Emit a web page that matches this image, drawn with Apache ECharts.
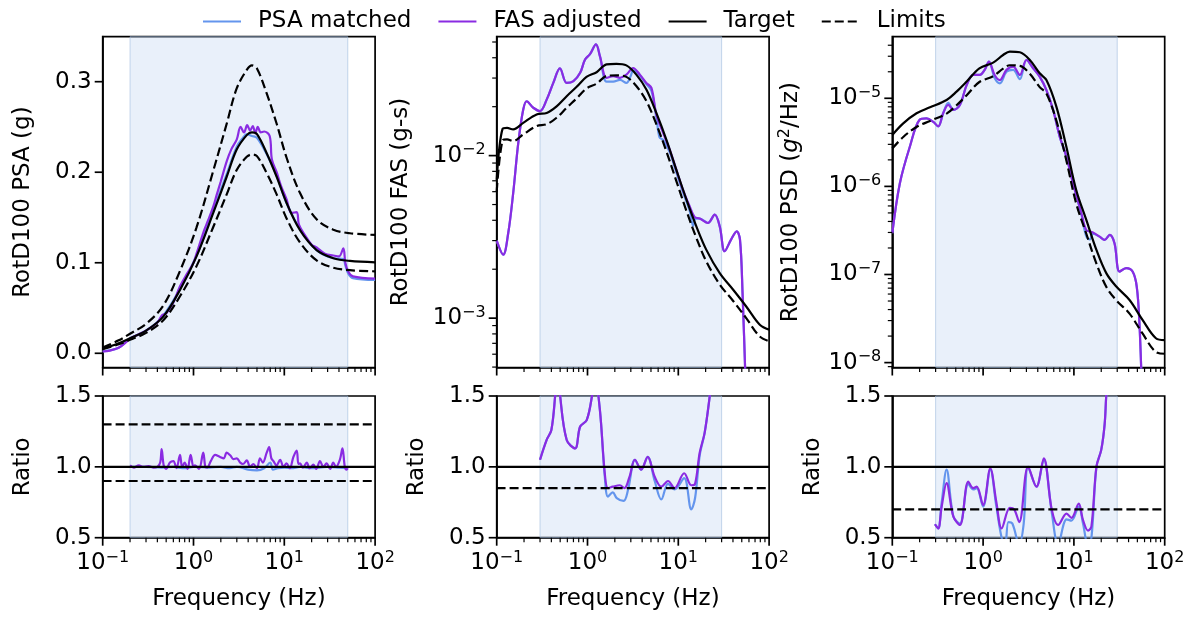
<!DOCTYPE html>
<html>
<head>
<meta charset="utf-8">
<script src="https://cdn.jsdelivr.net/npm/echarts@6/dist/echarts.min.js"></script>
<style>
  html, body { margin: 0; padding: 0; background: #fff; }
  #chart { width: 1193px; height: 618px; }
</style>
</head>
<body>
<div id="chart"></div>
<script>
// ---- data: [frequency (Hz), value] ----
// left column: PSA (g)
const psaTarget = [[0.1, 0.005], [0.15, 0.011], [0.2, 0.0166], [0.3, 0.025], [0.465, 0.0405], [0.71, 0.07], [1.08, 0.107], [1.65, 0.155], [2.32, 0.195], [2.99, 0.225], [3.86, 0.241], [4.4, 0.244], [5.0, 0.242], [6.4, 0.221], [8.24, 0.195], [10.6, 0.166], [14.9, 0.136], [22.7, 0.114], [34.7, 0.105], [52.8, 0.102], [100, 0.1005]];
const psaUpper = [[0.1, 0.0065], [0.15, 0.0143], [0.2, 0.0216], [0.3, 0.0325], [0.465, 0.0527], [0.71, 0.091], [1.08, 0.139], [1.65, 0.2015], [2.32, 0.2535], [2.99, 0.2925], [3.86, 0.313], [4.4, 0.318], [5.0, 0.3146], [6.4, 0.287], [8.24, 0.2535], [10.6, 0.216], [14.9, 0.177], [22.7, 0.148], [34.7, 0.1365], [52.8, 0.1326], [100, 0.1307]];
const psaLower = [[0.1, 0.0045], [0.15, 0.0099], [0.2, 0.0149], [0.3, 0.0225], [0.465, 0.0365], [0.71, 0.063], [1.08, 0.0963], [1.65, 0.1395], [2.32, 0.1755], [2.99, 0.2025], [3.86, 0.217], [4.4, 0.2196], [5.0, 0.2178], [6.4, 0.199], [8.24, 0.1755], [10.6, 0.149], [14.9, 0.1224], [22.7, 0.1026], [34.7, 0.0945], [52.8, 0.0918], [100, 0.0905]];
const psaMatched = [[0.1, 0.002], [0.15, 0.006], [0.2, 0.0165], [0.3, 0.025], [0.45, 0.04], [0.71, 0.071], [1.08, 0.108], [1.65, 0.158], [2.32, 0.198], [2.99, 0.228], [3.5, 0.238], [3.86, 0.242], [4.4, 0.24], [5.0, 0.238], [6.4, 0.22], [8.24, 0.196], [10.6, 0.166], [14.9, 0.137], [22.7, 0.114], [34.7, 0.105], [44.7, 0.104], [47, 0.097], [50.7, 0.088], [57, 0.083], [100, 0.081]];
const psaFasAdj = [[0.1, 0.002], [0.12, 0.003], [0.15, 0.006], [0.18, 0.012], [0.2, 0.0165], [0.25, 0.021], [0.3, 0.025], [0.4, 0.034], [0.45, 0.042], [0.5, 0.044], [0.6, 0.056], [0.71, 0.074], [0.85, 0.088], [1.0, 0.1], [1.08, 0.11], [1.3, 0.135], [1.45, 0.147], [1.65, 0.162], [1.8, 0.175], [2.0, 0.19], [2.32, 0.212], [2.6, 0.225], [2.99, 0.236], [3.3, 0.25], [3.6, 0.244], [3.9, 0.252], [4.2, 0.246], [4.5, 0.251], [4.8, 0.243], [5.1, 0.25], [5.5, 0.244], [6.0, 0.245], [6.9, 0.24], [7.3, 0.214], [8.24, 0.2], [9.2, 0.185], [10.6, 0.17], [12, 0.155], [13.7, 0.156], [14.5, 0.142], [17, 0.13], [20, 0.12], [22.7, 0.117], [28, 0.11], [34.7, 0.108], [40, 0.107], [44.7, 0.116], [47, 0.1], [50.7, 0.09], [57, 0.085], [100, 0.0825]];
const psaRatioMatched = [[0.2, 1.0], [0.3, 1.0], [0.45, 0.995], [0.6, 1.0], [0.8, 0.99], [1.0, 1.0], [1.5, 0.995], [2.0, 1.0], [2.5, 0.99], [3.0, 1.0], [4.0, 0.98], [5.0, 0.975], [6.0, 0.99], [7.0, 1.03], [7.5, 0.98], [8.5, 0.99], [10, 0.995], [12, 0.99], [15, 1.0], [20, 0.99], [30, 1.0], [40, 0.995], [50, 0.99]];
const psaRatioAdj = [[0.2, 1.01], [0.22, 0.995], [0.25, 1.01], [0.28, 1.0], [0.32, 1.005], [0.36, 0.995], [0.4, 1.0], [0.43, 1.03], [0.446, 1.125], [0.47, 1.01], [0.5, 0.985], [0.55, 1.03], [0.6, 1.04], [0.65, 0.99], [0.71, 1.085], [0.75, 1.0], [0.8, 1.03], [0.86, 0.985], [0.93, 1.085], [1.0, 1.0], [1.04, 1.01], [1.15, 0.985], [1.28, 1.1], [1.35, 1.0], [1.41, 0.995], [1.55, 1.04], [1.73, 1.085], [1.96, 1.07], [2.15, 1.06], [2.32, 1.1], [2.55, 1.08], [2.75, 1.055], [3.0, 1.06], [3.27, 1.03], [3.5, 1.02], [3.86, 1.045], [4.2, 1.0], [4.56, 1.02], [5.0, 0.99], [5.4, 1.06], [5.8, 1.03], [6.4, 1.1], [6.8, 1.14], [7.2, 1.06], [7.6, 1.04], [8.2, 1.01], [9.0, 1.05], [9.8, 1.0], [10.6, 1.025], [11.5, 0.99], [12.6, 1.07], [13.7, 1.115], [14.3, 1.02], [14.9, 1.025], [16, 0.995], [17.7, 1.03], [19, 0.99], [20.9, 1.015], [22.5, 0.985], [24.7, 1.04], [27, 1.0], [29.2, 1.025], [32, 0.985], [34.6, 1.03], [37, 1.0], [40.9, 1.05], [43.7, 1.13], [46.4, 1.0], [48.5, 0.98], [50, 0.99]];
const psaBand = [0.2, 50];
const psaRatioLimits = [1.3, 0.9];

// middle column: FAS (g-s)
const fasTarget = [[0.1, 0.0071], [0.116, 0.0146], [0.13, 0.0148], [0.152, 0.0145], [0.196, 0.0159], [0.275, 0.0179], [0.355, 0.0183], [0.457, 0.0201], [0.59, 0.0232], [0.76, 0.0265], [0.975, 0.0305], [1.26, 0.0326], [1.62, 0.0364], [2.08, 0.0367], [2.68, 0.0359], [3.45, 0.0315], [4.45, 0.0255], [5.73, 0.0183], [7.4, 0.0125], [9.5, 0.0082], [12.3, 0.00536], [15.8, 0.00367], [20.3, 0.00264], [28.6, 0.00189], [40, 0.0015], [56, 0.00118], [79, 0.00091], [100, 0.00085]];
const fasLower = [[0.1, 0.006], [0.116, 0.0124], [0.13, 0.0126], [0.152, 0.0123], [0.196, 0.0135], [0.275, 0.0152], [0.355, 0.0156], [0.457, 0.0171], [0.59, 0.0197], [0.76, 0.0225], [0.975, 0.0259], [1.26, 0.0277], [1.62, 0.0309], [2.08, 0.0312], [2.68, 0.0305], [3.45, 0.0268], [4.45, 0.0217], [5.73, 0.0156], [7.4, 0.0106], [9.5, 0.007], [12.3, 0.00456], [15.8, 0.00312], [20.3, 0.00224], [28.6, 0.00161], [40, 0.00128], [56, 0.001], [79, 0.00077], [100, 0.00072]];
const fasMatched = [[0.1, 0.003], [0.118, 0.00246], [0.134, 0.00334], [0.152, 0.0059], [0.173, 0.012], [0.196, 0.0192], [0.214, 0.0216], [0.253, 0.0197], [0.3, 0.0188], [0.355, 0.0221], [0.42, 0.028], [0.497, 0.0344], [0.59, 0.028], [0.7, 0.0287], [0.83, 0.0323], [0.94, 0.039], [1.06, 0.0419], [1.24, 0.0483], [1.37, 0.0409], [1.62, 0.0285], [1.92, 0.0285], [2.28, 0.0292], [2.68, 0.028], [3.0, 0.031], [3.18, 0.0335], [3.77, 0.031], [4.45, 0.0275], [5.06, 0.025], [5.73, 0.0172], [6.2, 0.013], [6.8, 0.0125], [8.04, 0.0105], [9.5, 0.0079], [11.2, 0.006], [13.3, 0.0046], [14.6, 0.0037], [15.5, 0.0041], [17.2, 0.0041], [21.2, 0.00385], [25.2, 0.00434], [28.6, 0.00367], [32.4, 0.00258], [38.1, 0.00304], [44, 0.00342], [47.8, 0.00304], [51, 0.00143], [56, 0.0003]];
const fasAdjusted = [[0.1, 0.003], [0.118, 0.00246], [0.134, 0.00334], [0.152, 0.0059], [0.173, 0.012], [0.196, 0.0192], [0.214, 0.0216], [0.253, 0.0197], [0.3, 0.0188], [0.355, 0.0221], [0.42, 0.028], [0.497, 0.0344], [0.59, 0.028], [0.7, 0.0287], [0.83, 0.0323], [0.94, 0.039], [1.06, 0.0419], [1.24, 0.0483], [1.37, 0.0409], [1.62, 0.0301], [1.92, 0.0308], [2.28, 0.0301], [2.68, 0.0315], [3.18, 0.0346], [3.77, 0.0315], [4.45, 0.028], [5.06, 0.0261], [5.73, 0.0179], [6.8, 0.0138], [8.04, 0.0109], [9.5, 0.0082], [11.2, 0.0062], [13.3, 0.0049], [15.1, 0.0042], [17.2, 0.0041], [21.2, 0.00385], [25.2, 0.00434], [28.6, 0.00367], [32.4, 0.00258], [38.1, 0.00304], [44, 0.00342], [47.8, 0.00304], [51, 0.00143], [56, 0.0003]];
const fasRatioMatched = [[0.3, 1.05], [0.355, 1.19], [0.4, 1.26], [0.44, 1.5], [0.47, 1.75], [0.5, 1.5], [0.59, 1.19], [0.73, 1.13], [0.83, 1.285], [0.98, 1.33], [1.12, 1.5], [1.2, 1.65], [1.37, 1.4], [1.55, 0.93], [1.68, 0.79], [1.9, 0.82], [2.1, 0.78], [2.5, 0.76], [2.8, 0.84], [3.33, 1.05], [3.9, 0.98], [4.6, 1.07], [5.5, 0.9], [6.5, 0.77], [7.7, 0.88], [9.1, 0.84], [11.6, 0.92], [13.9, 0.7], [15.3, 0.78], [17.2, 1.08], [19.5, 1.24], [22.3, 1.51], [24, 1.7]];
const fasRatioAdj = [[0.3, 1.05], [0.355, 1.19], [0.4, 1.26], [0.44, 1.5], [0.47, 1.75], [0.5, 1.5], [0.59, 1.19], [0.73, 1.13], [0.83, 1.285], [0.98, 1.33], [1.12, 1.5], [1.2, 1.65], [1.37, 1.4], [1.55, 0.955], [1.68, 0.85], [1.9, 0.86], [2.27, 0.87], [2.55, 0.85], [2.9, 0.93], [3.33, 1.05], [3.9, 0.98], [4.6, 1.07], [5.5, 0.93], [6.5, 0.86], [7.7, 0.9], [9.1, 0.85], [11.6, 0.955], [13.9, 0.87], [15.3, 0.88], [17.2, 1.1], [19.5, 1.24], [22.3, 1.51], [24, 1.7]];
const fasBand = [0.3, 30];
const fasRatioLimits = [0.85];

// right column: PSD (g^2/Hz)
const psdTarget = [[0.1, 3.84e-6], [0.132, 5.2e-6], [0.185, 6.76e-6], [0.26, 7.9e-6], [0.396, 9.57e-6], [0.51, 1.19e-5], [0.66, 1.55e-5], [0.91, 2.19e-5], [1.29, 2.54e-5], [1.66, 3.1e-5], [1.97, 3.39e-5], [2.54, 3.33e-5], [3.27, 2.72e-5], [4.2, 1.92e-5], [4.98, 1.61e-5], [6.41, 8.04e-6], [8.26, 2.82e-6], [10.6, 9.1e-7], [13.7, 4.16e-7], [17.7, 1.9e-7], [22.8, 1.03e-7], [29.3, 7.3e-8], [41, 5.14e-8], [57, 3.05e-8], [80, 1.89e-8], [100, 1.8e-8]];
const psdLower = [[0.1, 2.69e-6], [0.132, 3.64e-6], [0.185, 4.73e-6], [0.26, 5.53e-6], [0.396, 6.7e-6], [0.51, 8.33e-6], [0.66, 1.085e-5], [0.91, 1.53e-5], [1.29, 1.78e-5], [1.66, 2.17e-5], [1.97, 2.37e-5], [2.54, 2.33e-5], [3.27, 1.9e-5], [4.2, 1.34e-5], [4.98, 1.13e-5], [6.41, 5.6e-6], [8.26, 1.97e-6], [10.6, 6.4e-7], [13.7, 2.9e-7], [17.7, 1.33e-7], [22.8, 7.2e-8], [29.3, 5.1e-8], [41, 3.6e-8], [57, 2.14e-8], [80, 1.32e-8], [100, 1.26e-8]];
const psdMatched = [[0.1, 2.94e-7], [0.121, 1.08e-6], [0.156, 2.82e-6], [0.2, 5.7e-6], [0.238, 5.9e-6], [0.283, 5.4e-6], [0.32, 4.8e-6], [0.364, 6.8e-6], [0.414, 8.9e-6], [0.47, 7.4e-6], [0.555, 8.4e-6], [0.66, 1.42e-5], [0.78, 1.84e-5], [0.92, 1.84e-5], [1.04, 2.1e-5], [1.16, 2.6e-5], [1.34, 1.7e-5], [1.53, 1.48e-5], [1.81, 2.0e-5], [2.14, 2.1e-5], [2.54, 1.65e-5], [3.0, 2.72e-5], [3.56, 2.19e-5], [4.2, 1.76e-5], [4.98, 1.24e-5], [5.9, 7.4e-6], [6.98, 3.67e-6], [8.26, 2.18e-6], [9.8, 1.08e-6], [12.1, 4.8e-7], [13.7, 2.7e-7], [15, 2.5e-7], [16.2, 2.9e-7], [19.2, 2.69e-7], [21.8, 2.47e-7], [24.8, 2.81e-7], [28, 2.26e-7], [31.8, 1.08e-7], [37.6, 1.18e-7], [44.3, 1.08e-7], [49.2, 7.3e-8], [52.7, 2.8e-8], [56, 5e-9]];
const psdAdjusted = [[0.1, 2.94e-7], [0.121, 1.08e-6], [0.156, 2.82e-6], [0.2, 5.7e-6], [0.238, 5.9e-6], [0.283, 5.4e-6], [0.32, 4.8e-6], [0.364, 6.8e-6], [0.414, 8.4e-6], [0.47, 7.4e-6], [0.555, 8.4e-6], [0.66, 1.42e-5], [0.78, 1.84e-5], [0.92, 1.84e-5], [1.04, 2.1e-5], [1.16, 2.6e-5], [1.34, 1.84e-5], [1.53, 1.61e-5], [1.81, 2.1e-5], [2.14, 2.29e-5], [2.54, 1.84e-5], [3.0, 2.72e-5], [3.56, 2.19e-5], [4.2, 1.76e-5], [4.98, 1.24e-5], [5.9, 7.4e-6], [6.98, 3.67e-6], [8.26, 2.18e-6], [9.8, 1.08e-6], [12.1, 4.95e-7], [13.7, 3.2e-7], [16.2, 3.0e-7], [19.2, 2.69e-7], [21.8, 2.47e-7], [24.8, 2.81e-7], [28, 2.26e-7], [31.8, 1.08e-7], [37.6, 1.18e-7], [44.3, 1.08e-7], [49.2, 7.3e-8], [52.7, 2.8e-8], [56, 5e-9]];
const psdRatioMatched = [[0.295, 0.595], [0.32, 0.565], [0.35, 0.75], [0.396, 0.98], [0.47, 0.65], [0.555, 0.6], [0.687, 0.88], [0.78, 0.84], [0.85, 0.85], [1.0, 0.72], [1.2, 0.98], [1.4, 0.72], [1.6, 0.5], [1.75, 0.45], [1.9, 0.61], [2.1, 0.6], [2.5, 0.45], [2.8, 0.6], [3.13, 1.0], [3.87, 0.86], [4.66, 1.05], [5.7, 0.68], [6.7, 0.45], [8.3, 0.63], [9.4, 0.62], [11.3, 0.72], [12.6, 0.6], [14.3, 0.45], [15.6, 0.5], [17.7, 1.0], [20, 1.12], [21.8, 1.3], [22.7, 1.5], [24, 1.7]];
const psdRatioAdj = [[0.295, 0.595], [0.32, 0.565], [0.35, 0.72], [0.396, 0.885], [0.47, 0.65], [0.555, 0.59], [0.687, 0.896], [0.78, 0.85], [0.85, 0.86], [1.0, 0.73], [1.2, 0.99], [1.4, 0.75], [1.6, 0.565], [1.97, 0.71], [2.2, 0.7], [2.5, 0.61], [3.13, 1.0], [3.87, 0.86], [4.66, 1.06], [5.7, 0.7], [6.7, 0.59], [8.3, 0.67], [9.4, 0.64], [11.3, 0.74], [12.6, 0.625], [14.3, 0.55], [15.6, 0.58], [17.7, 1.0], [20, 1.12], [21.8, 1.3], [22.7, 1.5], [24, 1.7]];
const psdBand = [0.3, 30];
const psdRatioLimits = [0.7];

// axis ranges / tick labels
const freqRange = [0.1, 100];
const freqTicks = [0.1, 1, 10, 100];
const psaRange = [-0.0157, 0.3497];
const psaTicks = [0, 0.1, 0.2, 0.3];
const fasRange = [4.97e-4, 0.0539];
const fasTicks = [0.001, 0.01];
const psdRange = [8.8e-9, 5.0e-5];
const psdTicks = [1e-8, 1e-7, 1e-6, 1e-5];
const ratioRange = [0.5, 1.5];
const ratioTicks = [0.5, 1.0, 1.5];

const FONT = 'DejaVu Sans';
const BLUE = '#6495ED';
const PURPLE = '#8A2BE2';

const chart = echarts.init(document.getElementById('chart'));

const lefts = [102.7, 496.7, 892.3];
const plotW = 272.4;
const rows = [{ top: 36.7, height: 330.8 }, { top: 396, height: 141.7 }];

const richSup = {
  b: { fontSize: 23, fontFamily: FONT, color: '#000' },
  s: { fontSize: 16, fontFamily: FONT, color: '#000', verticalAlign: 'bottom', padding: [0, 0, 11, 0] },
  i: { fontSize: 23, fontFamily: FONT, color: '#000', fontStyle: 'italic' },
};

function pow10(v) {
  const e = Math.round(Math.log10(v));
  return '{b|10}{s|' + (e < 0 ? '\u2212' + (-e) : e) + '}';
}

// log minor tick positions (2..9 x 10^d) inside a range
function minorLog(range) {
  const out = [];
  for (let d = -10; d <= 3; d++) {
    for (let k = 2; k <= 9; k++) {
      const v = k * Math.pow(10, d);
      if (v > range[0] && v < range[1]) out.push(v);
    }
  }
  return out;
}

const grids = [];
const xAxes = [];
const yAxes = [];
const series = [];

const panels = [
  { col: 0, row: 0, yType: 'value', range: psaRange, ticks: psaTicks, fmt: v => v.toFixed(1), name: 'RotD100 PSA (g)', nameGap: 68 },
  { col: 1, row: 0, yType: 'log', range: fasRange, ticks: fasTicks, fmt: pow10, name: 'RotD100 FAS (g-s)', nameGap: 84 },
  { col: 2, row: 0, yType: 'log', range: psdRange, ticks: psdTicks, fmt: pow10, name: 'RotD100 PSD ({i|g}{s|2}/Hz)', nameGap: 88 },
  { col: 0, row: 1, yType: 'value', range: ratioRange, ticks: ratioTicks, fmt: v => v.toFixed(1), name: 'Ratio', nameGap: 68 },
  { col: 1, row: 1, yType: 'value', range: ratioRange, ticks: ratioTicks, fmt: v => v.toFixed(1), name: 'Ratio', nameGap: 68 },
  { col: 2, row: 1, yType: 'value', range: ratioRange, ticks: ratioTicks, fmt: v => v.toFixed(1), name: 'Ratio', nameGap: 68 },
];

const tickLine = { color: '#000', width: 1.7 };

// ticks drawn as a custom series, placed through the axis scales
function tickSeries(g, dir, values, fixed, len, width) {
  return {
    type: 'custom', xAxisIndex: g, yAxisIndex: g, silent: true, z: 10, clip: false,
    data: values.map(v => (dir === 'x' ? [v, fixed] : [fixed, v])),
    encode: { x: 0, y: 1 },
    renderItem(params, api) {
      const p = api.coord([api.value(0), api.value(1)]);
      const shape = dir === 'x'
        ? { x1: p[0], y1: p[1], x2: p[0], y2: p[1] + len }
        : { x1: p[0], y1: p[1], x2: p[0] - len, y2: p[1] };
      return { type: 'line', shape, style: { stroke: '#000', lineWidth: width } };
    },
  };
}

panels.forEach((p, g) => {
  grids.push({
    left: lefts[p.col], top: rows[p.row].top, width: plotW, height: rows[p.row].height,
    show: true, borderColor: '#000', borderWidth: 1.7, backgroundColor: 'transparent',
  });
  const bottomRow = p.row === 1;
  const logY = p.yType === 'log';
  xAxes.push({
    type: 'log', logBase: 10, gridIndex: g, position: 'bottom', min: freqRange[0], max: freqRange[1],
    axisLine: { show: true, onZero: false, lineStyle: tickLine },
    axisTick: { show: false },
    splitLine: { show: false },
    axisLabel: {
      show: bottomRow, customValues: freqTicks, formatter: pow10, margin: 12, rich: richSup,
    },
    name: bottomRow ? 'Frequency (Hz)' : '',
    nameLocation: 'middle', nameGap: 50,
    nameTextStyle: { fontFamily: FONT, fontSize: 23, color: '#000' },
  });
  yAxes.push({
    type: p.yType, gridIndex: g, position: 'left', min: p.range[0], max: p.range[1],
    axisLine: { show: true, onZero: false, lineStyle: tickLine },
    axisTick: { show: false },
    splitLine: { show: false },
    axisLabel: { customValues: p.ticks, formatter: p.fmt, margin: 11, fontFamily: FONT, fontSize: 23, color: '#000', rich: richSup },
    name: p.name, nameLocation: 'middle', nameGap: p.nameGap, nameRotate: 90,
    nameTextStyle: { fontFamily: FONT, fontSize: 23, color: '#000', rich: richSup },
  });
  series.push(tickSeries(g, 'x', freqTicks, p.range[0], 8, 1.7));
  series.push(tickSeries(g, 'x', minorLog(freqRange), p.range[0], 4.5, 1.2));
  series.push(tickSeries(g, 'y', p.ticks, freqRange[0], 8, 1.7));
  if (logY) series.push(tickSeries(g, 'y', minorLog(p.range), freqRange[0], 4.5, 1.2));
});

function line(name, g, data, color, z, dashed, band) {
  const s = {
    type: 'line', name, xAxisIndex: g, yAxisIndex: g, data,
    symbol: 'none', showSymbol: false, smooth: 0.35, z, clip: true,
    lineStyle: { color, width: 2.2, type: dashed ? [9, 4] : 'solid' },
    itemStyle: { color },
    emphasis: { disabled: true },
  };
  if (band) {
    s.markArea = {
      silent: true,
      itemStyle: { color: 'rgba(170,198,235,0.26)', borderColor: 'rgba(160,188,222,0.6)', borderWidth: 1 },
      data: [[{ xAxis: band[0] }, { xAxis: band[1] }]],
    };
  }
  return s;
}

function hline(name, g, value, dashed) {
  return line(name, g, [[freqRange[0], value], [freqRange[1], value]], '#000', 6, dashed);
}

// top row
series.push(line('PSA matched', 0, psaMatched, BLUE, 2, false, psaBand));
series.push(line('FAS adjusted', 0, psaFasAdj, PURPLE, 3));
series.push(line('Target', 0, psaTarget, '#000', 4));
series.push(line('Limits', 0, psaUpper, '#000', 5, true));
series.push(line('Limits', 0, psaLower, '#000', 5, true));

series.push(line('PSA matched', 1, fasMatched, BLUE, 2, false, fasBand));
series.push(line('FAS adjusted', 1, fasAdjusted, PURPLE, 3));
series.push(line('Target', 1, fasTarget, '#000', 4));
series.push(line('Limits', 1, fasLower, '#000', 5, true));

series.push(line('PSA matched', 2, psdMatched, BLUE, 2, false, psdBand));
series.push(line('FAS adjusted', 2, psdAdjusted, PURPLE, 3));
series.push(line('Target', 2, psdTarget, '#000', 4));
series.push(line('Limits', 2, psdLower, '#000', 5, true));

// ratio row
series.push(line('PSA matched', 3, psaRatioMatched, BLUE, 2, false, psaBand));
series.push(line('FAS adjusted', 3, psaRatioAdj, PURPLE, 3));
series.push(hline('Target', 3, 1.0));
psaRatioLimits.forEach(v => series.push(hline('Limits', 3, v, true)));

series.push(line('PSA matched', 4, fasRatioMatched, BLUE, 2, false, fasBand));
series.push(line('FAS adjusted', 4, fasRatioAdj, PURPLE, 3));
series.push(hline('Target', 4, 1.0));
fasRatioLimits.forEach(v => series.push(hline('Limits', 4, v, true)));

series.push(line('PSA matched', 5, psdRatioMatched, BLUE, 2, false, psdBand));
series.push(line('FAS adjusted', 5, psdRatioAdj, PURPLE, 3));
series.push(hline('Target', 5, 1.0));
psdRatioLimits.forEach(v => series.push(hline('Limits', 5, v, true)));

chart.setOption({
  animation: false,
  backgroundColor: '#fff',
  textStyle: { fontFamily: FONT },
  legend: {
    data: ['PSA matched', 'FAS adjusted', 'Target', 'Limits'],
    left: 197, top: 5,
    itemWidth: 38, itemHeight: 22, itemGap: 26,
    itemStyle: { opacity: 0 },
    textStyle: { fontFamily: FONT, fontSize: 23, color: '#000', padding: [0, 0, 0, 12] },
    selectedMode: false,
  },
  grid: grids,
  xAxis: xAxes,
  yAxis: yAxes,
  series,
});
</script>
</body>
</html>
